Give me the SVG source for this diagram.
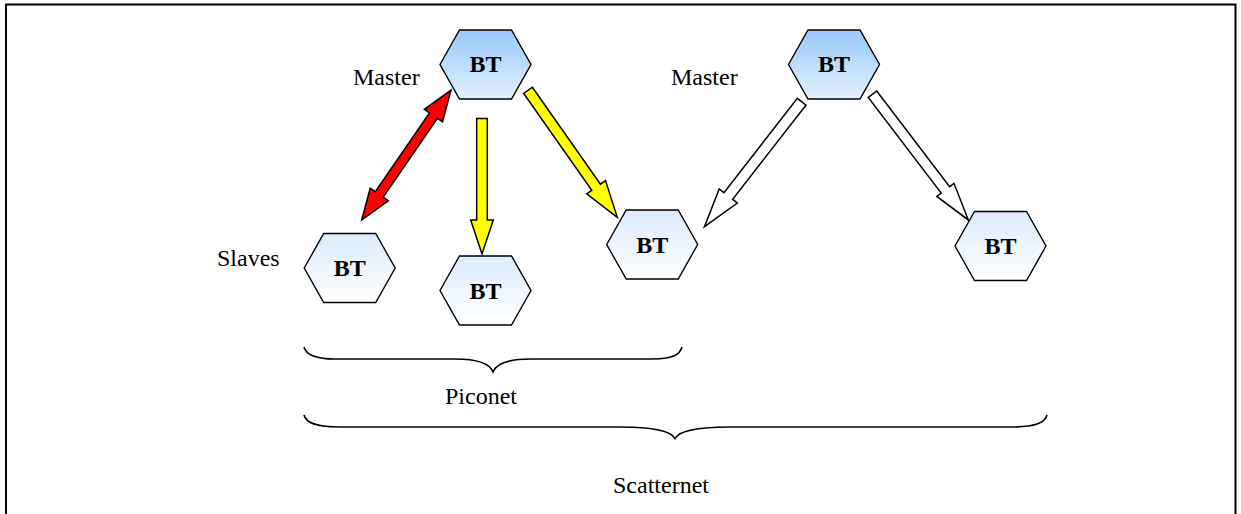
<svg xmlns="http://www.w3.org/2000/svg" width="1241" height="514" viewBox="0 0 1241 514">
  <style>
    .frame { fill: none; stroke: #000; stroke-width: 2; }
    .hex { stroke: #000; stroke-width: 1.4; stroke-linejoin: miter; }
    .master .hex { fill: url(#gMaster); }
    .slave .hex { fill: url(#gSlave); }
    .bt { font-family: "Liberation Serif", "Times New Roman", serif; font-weight: bold; font-size: 24px; text-anchor: middle; fill: #000; }
    .lbl { font-family: "Liberation Serif", "Times New Roman", serif; font-size: 24px; fill: #000; }
    .arrow { stroke: #000; stroke-width: 1.5; stroke-linejoin: miter; }
    .red { fill: #FF0000; }
    .yellow { fill: #FFFF00; }
    .hollow { fill: #FFFFFF; }
    .brace { fill: none; stroke: #000; stroke-width: 1.6; }
  </style>
  <defs>
    <linearGradient id="gMaster" x1="0" y1="0" x2="0" y2="1">
      <stop offset="0" stop-color="#99C9FA"/>
      <stop offset="1" stop-color="#E2F0FD"/>
    </linearGradient>
    <linearGradient id="gSlave" x1="0" y1="0" x2="0" y2="1">
      <stop offset="0" stop-color="#DCEBFC"/>
      <stop offset="1" stop-color="#FFFFFF"/>
    </linearGradient>
    <polygon id="hexShape" points="-45.5,0 -26,-34.5 26,-34.5 45.5,0 26,34.5 -26,34.5"/>
  </defs>

  <!-- outer frame (open at the bottom) -->
  <path class="frame" d="M6,514 L6,4.5 L1235.5,4.5 L1235.5,514"/>

  <!-- connectors -->
  <g id="connectors">
    <!-- master 1 <-> slave 1 (two-way) -->
    <polygon class="arrow red" transform="translate(361.7,220) rotate(-55.5)"
      points="0,0 31,-11 31,-4.8 126.7,-4.8 126.7,-11 157.7,0 126.7,11 126.7,4.8 31,4.8 31,11"/>
    <!-- master 1 -> slave 2 -->
    <polygon class="arrow yellow" transform="translate(482,118.5) rotate(90)"
      points="0,-5.3 101.5,-5.3 101.5,-11.3 135.5,0 101.5,11.3 101.5,5.3 0,5.3"/>
    <!-- master 1 -> slave 3 -->
    <polygon class="arrow yellow" transform="translate(528,90.3) rotate(54.9)"
      points="0,-5.3 118.5,-5.3 118.5,-11.5 155.3,0 118.5,11.5 118.5,5.3 0,5.3"/>
    <!-- master 2 -> slave 3 -->
    <polygon class="arrow hollow" transform="translate(801.7,101.7) rotate(127.9)"
      points="0,-5.5 119.5,-5.5 119.5,-11.5 158.3,0 119.5,11.5 119.5,5.5 0,5.5"/>
    <!-- master 2 -> slave 4 -->
    <polygon class="arrow hollow" transform="translate(872.5,94.2) rotate(52.7)"
      points="0,-5.3 120.3,-5.3 120.3,-10.8 158.1,0 120.3,10.8 120.3,5.3 0,5.3"/>
  </g>

  <!-- piconet 1: master -->
  <g id="master1" class="master">
    <use href="#hexShape" class="hex" x="485.5" y="64.5"/>
    <text class="bt" x="485.5" y="72">BT</text>
  </g>
  <!-- piconet 2: master -->
  <g id="master2" class="master">
    <use href="#hexShape" class="hex" x="834" y="64.5"/>
    <text class="bt" x="834" y="72">BT</text>
  </g>
  <g id="slave1" class="slave">
    <use href="#hexShape" class="hex" x="349.7" y="268"/>
    <text class="bt" x="349.7" y="276">BT</text>
  </g>
  <g id="slave2" class="slave">
    <use href="#hexShape" class="hex" x="485.5" y="290.5"/>
    <text class="bt" x="485.5" y="298.5">BT</text>
  </g>
  <g id="slave3" class="slave">
    <use href="#hexShape" class="hex" x="652.2" y="244.5"/>
    <text class="bt" x="652.2" y="252.5">BT</text>
  </g>
  <g id="slave4" class="slave">
    <use href="#hexShape" class="hex" x="1000.5" y="246"/>
    <text class="bt" x="1000.5" y="254">BT</text>
  </g>

  <!-- role labels -->
  <g id="labels">
    <text class="lbl" x="353" y="85">Master</text>
    <text class="lbl" x="671" y="85">Master</text>
    <text class="lbl" x="217" y="266">Slaves</text>
  </g>

  <!-- grouping braces -->
  <g id="piconet">
    <path class="brace" d="M304,347 C306,355 315,359 335,359 L455,359 C478,359 490,364 493,372 C496,364 508,359 531,359 L652,359 C672,359 680,355 682,347"/>
    <text class="lbl" x="481" y="404" text-anchor="middle">Piconet</text>
  </g>
  <g id="scatternet">
    <path class="brace" d="M304,415 C306,423 316,427 340,427 L620,427 C655,427 672,432 675,438.5 C678,432 695,427 730,427 L1010,427 C1035,427 1045,423 1047,415"/>
    <text class="lbl" x="661" y="493" text-anchor="middle">Scatternet</text>
  </g>
</svg>
